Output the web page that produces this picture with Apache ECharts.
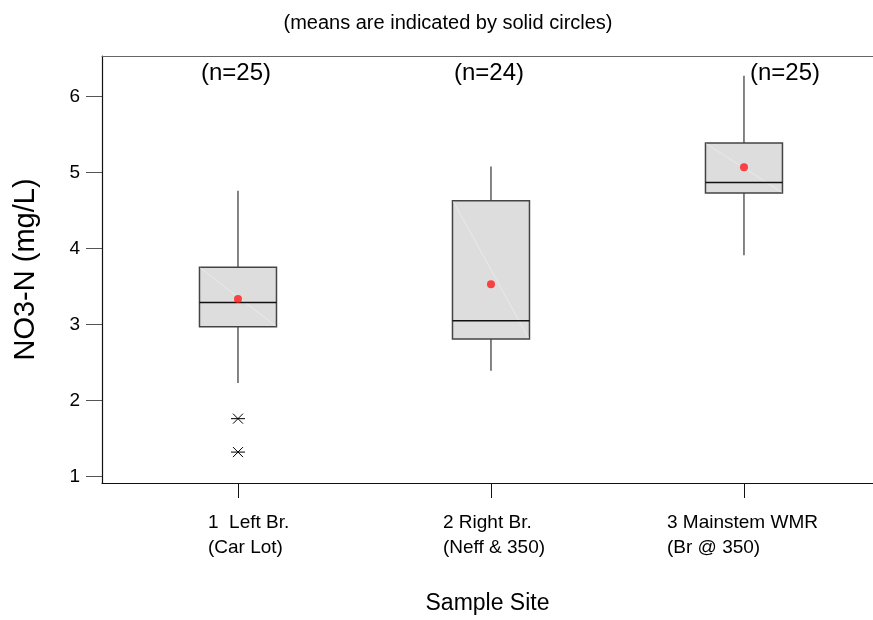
<!DOCTYPE html>
<html><head><meta charset="utf-8">
<script src="https://cdn.jsdelivr.net/npm/echarts@6/dist/echarts.min.js"></script>
<style>html,body{margin:0;padding:0;background:#fff}#c{width:873px;height:620px}</style>
</head><body><div id="c"></div>
<script>
// ---- data ----
const siteLabels = ['1  Left Br.\n(Car Lot)', '2 Right Br.\n(Neff & 350)', '3 Mainstem WMR\n(Br @ 350)'];
const sitePos = [1, 2, 3];
const whiskerLow = [2.23, 2.39, 3.91];
const q1 = [2.97, 2.81, 4.73];
const median = [3.29, 3.05, 4.87];
const q3 = [3.755, 4.63, 5.39];
const whiskerHigh = [4.76, 5.08, 6.275];
const means = [3.335, 3.53, 5.07];
const outlierSite = [1, 1];
const outlierValue = [1.76, 1.32];
const counts = ['(n=25)', '(n=24)', '(n=25)'];
const yTicks = [1, 2, 3, 4, 5, 6];

// ---- styles / layout ----
const FONT = 'Liberation Sans, Arial, sans-serif';
const countOffsetX = [-0.008, -0.008, 0.162];
const countY = 6.30;
const boxHalf = 38.5;

const chart = echarts.init(document.getElementById('c'), null, {renderer: 'canvas'});

const boxData = sitePos.map((s, i) => [s, whiskerLow[i], q1[i], median[i], q3[i], whiskerHigh[i]]);

function renderBox(params, api) {
  const x = api.value(0);
  const pLow = api.coord([x, api.value(1)]);
  const pQ1 = api.coord([x, api.value(2)]);
  const pMed = api.coord([x, api.value(3)]);
  const pQ3 = api.coord([x, api.value(4)]);
  const pHigh = api.coord([x, api.value(5)]);
  const cx = pQ1[0];
  return {
    type: 'group',
    children: [
      {type: 'line', shape: {x1: cx, y1: pHigh[1], x2: cx, y2: pQ3[1]}, style: {stroke: '#333', lineWidth: 1.2}},
      {type: 'line', shape: {x1: cx, y1: pQ1[1], x2: cx, y2: pLow[1]}, style: {stroke: '#333', lineWidth: 1.2}},
      {type: 'rect', shape: {x: cx - boxHalf, y: pQ3[1], width: boxHalf * 2, height: pQ1[1] - pQ3[1]},
        style: {fill: '#dddddd', stroke: '#444', lineWidth: 1.5}},
      {type: 'line', shape: {x1: cx - boxHalf + 1, y1: pQ3[1] + 1, x2: cx + boxHalf - 1, y2: pQ1[1] - 1},
        style: {stroke: '#eaeaea', lineWidth: 1}},
      {type: 'line', shape: {x1: cx - boxHalf, y1: pMed[1], x2: cx + boxHalf, y2: pMed[1]},
        style: {stroke: '#111', lineWidth: 1.5}}
    ]
  };
}

function renderStar(params, api) {
  const p = api.coord([api.value(0), api.value(1)]);
  const r = 7, d = 5;
  return {
    type: 'group',
    children: [
      {type: 'line', shape: {x1: p[0] - r, y1: p[1], x2: p[0] + r, y2: p[1]}, style: {stroke: '#000', lineWidth: 1}},
      {type: 'line', shape: {x1: p[0] - d, y1: p[1] - d, x2: p[0] + d, y2: p[1] + d}, style: {stroke: '#000', lineWidth: 1}},
      {type: 'line', shape: {x1: p[0] - d, y1: p[1] + d, x2: p[0] + d, y2: p[1] - d}, style: {stroke: '#000', lineWidth: 1}}
    ]
  };
}

function renderCount(params, api) {
  const i = params.dataIndex;
  const p = api.coord([api.value(0) + countOffsetX[i], countY]);
  return {
    type: 'text', x: p[0], y: p[1],
    style: {text: counts[i], font: '24px ' + FONT, fill: '#000', textAlign: 'center', textVerticalAlign: 'middle'}
  };
}

const richBase = {fontSize: 19, lineHeight: 25, color: '#000', fontFamily: FONT, align: 'left'};

const option = {
  backgroundColor: '#fff',
  animation: false,
  textStyle: {fontFamily: FONT},
  title: {
    text: '(means are indicated by solid circles)',
    left: 443, top: 8, textAlign: 'center',
    textStyle: {fontSize: 20, fontWeight: 'normal', color: '#000', fontFamily: FONT}
  },
  grid: {left: 102, top: 56, right: 0, bottom: 133, show: false},
  xAxis: [{
    type: 'value', min: 0.4625, max: 3.510,
    name: 'Sample Site', nameLocation: 'middle', nameGap: 109,
    nameTextStyle: {fontSize: 23, color: '#000', fontFamily: FONT},
    axisLine: {show: true, onZero: false, lineStyle: {color: '#111', width: 1.2}},
    axisTick: {show: true, inside: false, length: 15, customValues: sitePos, lineStyle: {color: '#111'}},
    splitLine: {show: false},
    axisLabel: {
      customValues: sitePos, margin: 27, color: '#000', fontSize: 19, fontFamily: FONT,
      formatter: function (v) {
        const i = sitePos.indexOf(Math.round(v));
        const lines = siteLabels[i].split('\n');
        return lines.map(l => '{s' + i + '|' + l + '}').join('\n');
      },
      rich: {
        s0: Object.assign({width: 84, padding: [0, 0, 0, 24]}, richBase),
        s1: Object.assign({width: 107, padding: [0, 0, 0, 11]}, richBase),
        s2: Object.assign({width: 154, padding: [0, 0, 0, 0]}, richBase)
      }
    }
  }, {
    type: 'value', position: 'top', min: 0.4625, max: 3.510,
    axisLine: {show: true, onZero: false, lineStyle: {color: '#666', width: 1.2}},
    axisTick: {show: false}, axisLabel: {show: false}, splitLine: {show: false}
  }],
  yAxis: {
    type: 'value', min: 0.913, max: 6.535,
    name: 'NO3-N (mg/L)', nameLocation: 'middle', nameGap: 62, nameRotate: 90,
    nameTextStyle: {fontSize: 29, color: '#000', fontFamily: FONT},
    axisLine: {show: true, lineStyle: {color: '#111', width: 1.2}},
    axisTick: {show: true, inside: false, length: 16, customValues: yTicks, lineStyle: {color: '#555'}},
    splitLine: {show: false},
    axisLabel: {customValues: yTicks, margin: 22, color: '#000', fontSize: 19, fontFamily: FONT}
  },
  series: [
    {type: 'custom', renderItem: renderBox, data: boxData, encode: {x: 0, y: [1, 2, 3, 4, 5]}, z: 2},
    {type: 'scatter', data: sitePos.map((s, i) => [s, means[i]]), symbol: 'circle', symbolSize: 8,
      itemStyle: {color: '#ff1a1a'}, z: 5},
    {type: 'custom', renderItem: renderStar, data: outlierSite.map((s, i) => [s, outlierValue[i]]), z: 4},
    {type: 'custom', renderItem: renderCount, data: sitePos.map((s, i) => [s, countY]), z: 6}
  ]
};
chart.setOption(option);
</script></body></html>
